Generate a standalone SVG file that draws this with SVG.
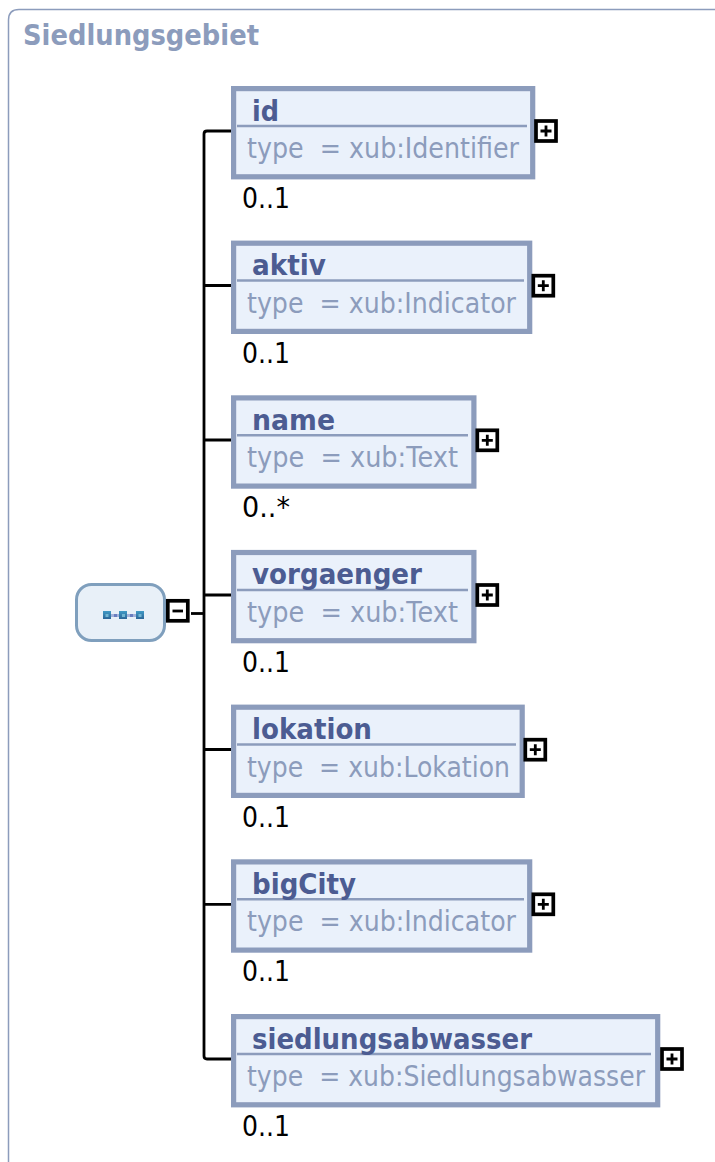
<svg xmlns="http://www.w3.org/2000/svg" width="715" height="1162" viewBox="0 0 715 1162">
<style>
text{font-family:"DejaVu Sans",Verdana,sans-serif;white-space:pre}
.box{fill:#eaf1fb;stroke:#8c9cbc;stroke-width:5.2}
.div{stroke:#8c9cbc;stroke-width:2.5;fill:none}
.nm{font-weight:bold;font-size:28px;fill:#4c5c92}
.ty{font-size:28px;fill:#8c9cbc}
.oc{font-size:28px;fill:#000}
.btn{fill:#fff;stroke:#000;stroke-width:3.7}
.sym{stroke:#000;stroke-width:2.8;fill:none}
.con{stroke:#000;stroke-width:2.8;fill:none}
.sq{fill:url(#sq)}
.sqc{fill:#72b6d2}
</style>
<defs><linearGradient id="sq" x1="0" y1="0" x2="0" y2="1"><stop offset="0" stop-color="#409ac6"/><stop offset="1" stop-color="#2c6698"/></linearGradient></defs>
<path d="M8.500 1162V20Q8.500 9.500 19 9.500H715" fill="none" stroke="#8c9cbc" stroke-width="1.500"/>
<text x="23" y="45" textLength="236" lengthAdjust="spacingAndGlyphs" style="font-weight:bold;font-size:29px;fill:#8c9cbc">Siedlungsgebiet</text>
<g id="connectors" class="con">
<path d="M232 131H207Q204 131 204 134V1056Q204 1059 207 1059H232"/>
<path d="M204 285.500H232M204 440H232M204 595H232M204 749.500H232M204 904.300H232"/>
<path d="M191 613.500H204"/>
</g>
<g id="sequence">
<rect x="76.500" y="584.500" width="88" height="56" rx="15" fill="#e8f0f8" stroke="#7f9fbd" stroke-width="3"/>
<path d="M110 615.500H137" stroke="#a4b2da" stroke-width="3"/>
<path d="M114 615.500H117M130 615.500H133" stroke="#6a7ec0" stroke-width="3"/>
<rect class="sq" x="103" y="611" width="8" height="8"/><rect class="sqc" x="105.500" y="614" width="3" height="3"/>
<rect class="sq" x="119" y="611" width="8" height="8"/><rect class="sqc" x="122" y="614" width="3" height="3"/>
<rect class="sq" x="136" y="611" width="8" height="8"/><rect class="sqc" x="138.500" y="614" width="3" height="3"/>
<rect class="btn" x="167.800" y="600.800" width="20" height="20"/><path class="sym" d="M172.500 611H183"/>
</g>
<g id="n-id"><rect class="box" x="233.600" y="88.600" width="299.100" height="88.200"/><path class="div" d="M237 126H527"/><text class="nm" x="252" y="120.500" textLength="27" lengthAdjust="spacingAndGlyphs">id</text><text class="ty" x="247" y="158" textLength="272" lengthAdjust="spacingAndGlyphs">type  = xub:Identifier</text><text class="oc" x="242" y="208" textLength="48" lengthAdjust="spacingAndGlyphs">0..1</text><rect class="btn" x="536" y="121" width="20" height="20"/><path class="sym" d="M540.500 131H551.500M546 125.500V136.500"/></g>
<g id="n-aktiv"><rect class="box" x="233.600" y="243.200" width="296.100" height="88.200"/><path class="div" d="M237 280.600H524"/><text class="nm" x="252" y="275.100" textLength="74" lengthAdjust="spacingAndGlyphs">aktiv</text><text class="ty" x="247" y="312.600" textLength="269" lengthAdjust="spacingAndGlyphs">type  = xub:Indicator</text><text class="oc" x="242" y="362.600" textLength="48" lengthAdjust="spacingAndGlyphs">0..1</text><rect class="btn" x="533.300" y="275.700" width="20" height="20"/><path class="sym" d="M537.800 285.700H548.800M543.300 280.200V291.200"/></g>
<g id="n-name"><rect class="box" x="233.600" y="397.900" width="240.300" height="88.200"/><path class="div" d="M237 435.300H468"/><text class="nm" x="252" y="429.800" textLength="83" lengthAdjust="spacingAndGlyphs">name</text><text class="ty" x="247" y="467.300" textLength="211" lengthAdjust="spacingAndGlyphs">type  = xub:Text</text><text class="oc" x="242" y="517.300" textLength="48" lengthAdjust="spacingAndGlyphs">0..*</text><rect class="btn" x="477.300" y="430.300" width="20" height="20"/><path class="sym" d="M481.800 440.300H492.800M487.300 434.800V445.800"/></g>
<g id="n-vorgaenger"><rect class="box" x="233.600" y="552.500" width="240.300" height="88.200"/><path class="div" d="M237 589.900H468"/><text class="nm" x="252" y="584.400" textLength="170" lengthAdjust="spacingAndGlyphs">vorgaenger</text><text class="ty" x="247" y="621.900" textLength="211" lengthAdjust="spacingAndGlyphs">type  = xub:Text</text><text class="oc" x="242" y="671.900" textLength="48" lengthAdjust="spacingAndGlyphs">0..1</text><rect class="btn" x="477.300" y="585" width="20" height="20"/><path class="sym" d="M481.800 595H492.800M487.300 589.500V600.500"/></g>
<g id="n-lokation"><rect class="box" x="233.600" y="707.200" width="288.600" height="88.200"/><path class="div" d="M237 744.600H516"/><text class="nm" x="252" y="739.100" textLength="120" lengthAdjust="spacingAndGlyphs">lokation</text><text class="ty" x="247" y="776.600" textLength="263" lengthAdjust="spacingAndGlyphs">type  = xub:Lokation</text><text class="oc" x="242" y="826.600" textLength="48" lengthAdjust="spacingAndGlyphs">0..1</text><rect class="btn" x="525.300" y="739.700" width="20" height="20"/><path class="sym" d="M529.800 749.700H540.800M535.300 744.200V755.200"/></g>
<g id="n-bigCity"><rect class="box" x="233.600" y="861.900" width="296.100" height="88.200"/><path class="div" d="M237 899.300H524"/><text class="nm" x="252" y="893.800" textLength="104" lengthAdjust="spacingAndGlyphs">bigCity</text><text class="ty" x="247" y="931.300" textLength="269" lengthAdjust="spacingAndGlyphs">type  = xub:Indicator</text><text class="oc" x="242" y="981.300" textLength="48" lengthAdjust="spacingAndGlyphs">0..1</text><rect class="btn" x="533.300" y="894.300" width="20" height="20"/><path class="sym" d="M537.800 904.300H548.800M543.300 898.800V909.800"/></g>
<g id="n-siedlungsabwasser"><rect class="box" x="233.600" y="1016.600" width="424.100" height="88.200"/><path class="div" d="M237 1054H651"/><text class="nm" x="252" y="1048.500" textLength="280" lengthAdjust="spacingAndGlyphs">siedlungsabwasser</text><text class="ty" x="247" y="1086" textLength="398" lengthAdjust="spacingAndGlyphs">type  = xub:Siedlungsabwasser</text><text class="oc" x="242" y="1136" textLength="48" lengthAdjust="spacingAndGlyphs">0..1</text><rect class="btn" x="662" y="1049" width="20" height="20"/><path class="sym" d="M666.500 1059H677.500M672 1053.500V1064.500"/></g>
</svg>
